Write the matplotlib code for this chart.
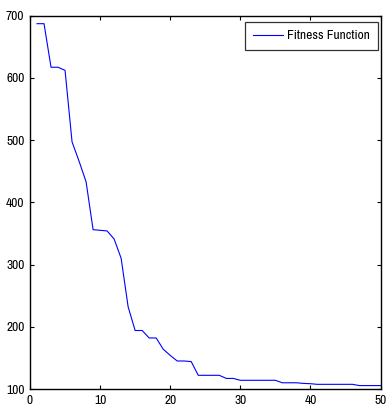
import matplotlib
matplotlib.use("Agg")
import matplotlib.pyplot as plt

# fitness value per generation
generations = list(range(1, 51))
fitness = [687, 687, 617, 617, 612, 497, 466, 433, 356, 355,
           354, 341, 310, 232, 194, 194, 182, 182, 164, 154,
           145, 145, 144, 122, 122, 122, 122, 117, 117, 114,
           114, 114, 114, 114, 114, 110, 110, 110, 109, 108.5,
           107.5, 107.5, 107.5, 107.5, 107.5, 107.5, 105.5, 105.5, 105.5, 105.5]
x_ticks = list(range(0, 51, 10))
y_ticks = list(range(100, 701, 100))

plt.rcParams["font.family"] = ["Archivo Narrow", "Liberation Sans", "DejaVu Sans"]

fig = plt.figure(figsize=(3.86, 4.09), dpi=100)
ax = fig.add_axes([30 / 386, 1 - 389 / 409, 350.5 / 386, 373.4 / 409])
ax.plot(generations, fitness, color="#0000ff", lw=0.8, label="Fitness Function")
ax.set_xlim(0, 50)
ax.set_ylim(100, 700)
ax.set_xticks(x_ticks)
ax.set_yticks(y_ticks)
ax.tick_params(direction="in", top=True, right=True, length=3, width=0.8,
               labelsize=9.7, pad=4)
for s in ax.spines.values():
    s.set_linewidth(1.0)
leg = ax.legend(loc="upper right", bbox_to_anchor=(0.993, 0.983), borderaxespad=0,
                fontsize=9.7, frameon=True, fancybox=False, handlelength=2.25,
                handletextpad=0.3, borderpad=0.6)
leg.get_frame().set_edgecolor("black")
leg.get_frame().set_linewidth(0.9)
fig.savefig("out.png", dpi=100)
